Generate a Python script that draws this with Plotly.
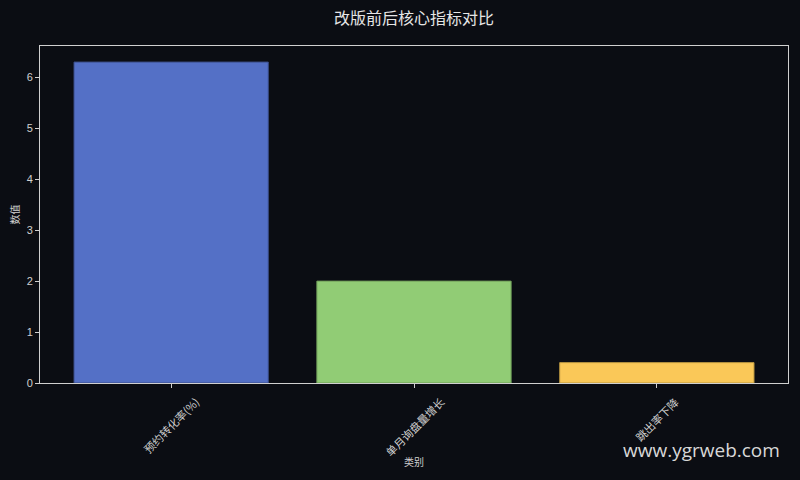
import plotly.graph_objects as go

# chart data
categories = ['预约转化率(%)', '单月询盘量增长', '跳出率下降']
values = [6.3, 2.0, 0.4]
bar_colors = ['#5470c6', '#91cc75', '#fac858']
edge_colors = ['#3a4d86', '#6f9c59', '#b8943f']

BG = '#0b0d13'
FG = '#d0d0d0'
FONT = 'Liberation Sans, Noto Sans CJK SC, sans-serif'

fig = go.Figure()
fig.add_trace(go.Bar(
    x=list(range(len(categories))),
    y=values,
    width=0.8,
    marker=dict(color=bar_colors, line=dict(color=edge_colors, width=1)),
    showlegend=False,
))

# rotated category labels, centred under each tick (matplotlib style)
for i, cat in enumerate(categories):
    fig.add_annotation(
        x=i, y=0, xref='x', yref='paper',
        text=cat, textangle=-45, showarrow=False,
        xanchor='center', yanchor='top', yshift=-8,
        font=dict(size=11, color=FG, family='Noto Sans CJK SC'),
    )

fig.add_annotation(
    x=1, y=0, xref='paper', yref='paper', text='www.ygrweb.com',
    showarrow=False, xanchor='right', yanchor='top', xshift=-6, yshift=-52,
    font=dict(size=19, color='#d8d8d8', family='Open Sans'),
)

fig.update_layout(
    width=800, height=480,
    paper_bgcolor=BG, plot_bgcolor=BG,
    margin=dict(l=40, r=12, t=46, b=97),
    font=dict(family=FONT, size=10, color=FG),
    title=dict(text='改版前后核心指标对比', x=0.5, xref='paper', xanchor='center', y=0.962,
               yanchor='middle', font=dict(size=16, color='#e6e6e6', family='Noto Sans CJK SC')),
    bargap=0.2,
)
fig.update_xaxes(
    range=[-0.54, 2.54], tickvals=list(range(len(categories))), showticklabels=False,
    ticks='outside', ticklen=4, tickcolor=FG, showgrid=False, zeroline=False,
    showline=True, linecolor='#d0d0d0', linewidth=1, mirror=True,
    title=dict(text='类别', standoff=71, font=dict(size=10, family='Noto Sans CJK SC')),
)
fig.update_yaxes(
    range=[0, 6.615], dtick=1, ticks='outside', ticklen=4, tickcolor=FG,
    showgrid=False, zeroline=False,
    showline=True, linecolor='#d0d0d0', linewidth=1, mirror=True,
    tickfont=dict(size=11),
    title=dict(text='数值', standoff=5, font=dict(size=10, family='Noto Sans CJK SC')),
)

fig.write_html('out.html', config={'displayModeBar': False},
               post_script="document.body.style.margin='0';")
